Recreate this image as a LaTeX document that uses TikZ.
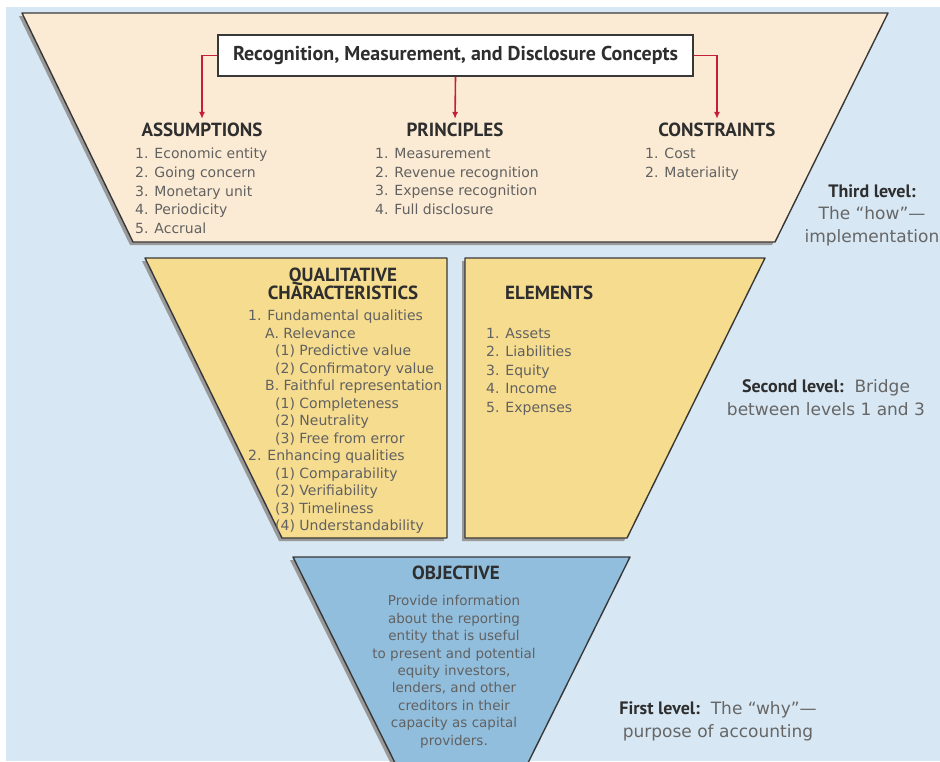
\documentclass[tikz,border=0pt]{standalone}
\usepackage{fontspec}
\setmainfont{DejaVu Sans}
\newfontfamily\headfont{PT Sans}
\usepackage{tikz}
\usetikzlibrary{arrows.meta}
\usetikzlibrary{positioning}
\definecolor{skyback}{HTML}{D7E7F3}
\definecolor{peach}{HTML}{FCEBD4}
\definecolor{gold}{HTML}{F6DC8F}
\definecolor{objblue}{HTML}{92BEDD}
\definecolor{linkred}{HTML}{C41E3A}
\colorlet{rimgray}{black!78}
\colorlet{shadowgray}{black!40}
\colorlet{headgray}{black!82}
\colorlet{itemgray}{black!62}
\colorlet{notegray}{black!60}

\begin{document}
\begin{tikzpicture}[x=1pt,y=-1pt,
    heading/.style={font=\headfont\bfseries\fontsize{19}{19}\selectfont, text=headgray, inner sep=0pt},
    itemlist/.style={font=\fontsize{14}{18.7}\selectfont, text=itemgray, align=left, anchor=north west, inner sep=0pt},
    levelnote/.style={font=\fontsize{17}{22.5}\selectfont, text=notegray, align=center, inner sep=0pt},
    link/.style={draw=linkred, line width=1.6pt, -{Latex[length=7pt,width=6pt]}, shorten >=4pt},
    rim/.style={draw=rimgray, line width=1.4pt, line join=round}]
\useasboundingbox (0,0) rectangle (940,761);
\fill[white] (0,0) rectangle (940,761);
\fill[skyback] (6,7) rectangle (940,761);

\fill[shadowgray, xshift=-3pt, yshift=-3pt] (22,13) -- (888,13) -- (775,242) -- (133,242) -- cycle;
\filldraw[fill=peach, rim] (22,13) -- (888,13) -- (775,242) -- (133,242) -- cycle;
\fill[shadowgray, xshift=-3pt, yshift=-3pt] (145,258) -- (447,258) -- (447,538) -- (282,538) -- cycle;
\filldraw[fill=gold, rim] (145,258) -- (447,258) -- (447,538) -- (282,538) -- cycle;
\fill[shadowgray, xshift=-3pt, yshift=-3pt] (465,258) -- (765,258) -- (627,538) -- (465,538) -- cycle;
\filldraw[fill=gold, rim] (465,258) -- (765,258) -- (627,538) -- (465,538) -- cycle;
\fill[shadowgray, xshift=-3pt, yshift=-3pt] (293,557) -- (630,557) -- (522,775) -- (401,775) -- cycle;
\filldraw[fill=objblue, rim] (293,557) -- (630,557) -- (522,775) -- (401,775) -- cycle;

\node[draw=rimgray, line width=1.5pt, fill=white, minimum width=475pt, minimum height=41pt,
      font=\headfont\bfseries\fontsize{20}{20}\selectfont, text=headgray] (concepts) at (455.5,55.5)
      {Recognition, Measurement, and Disclosure Concepts};

\node[heading] (assump) at (202,130) {ASSUMPTIONS};
\node[heading] (princ) at (455,130) {PRINCIPLES};
\node[heading] (constr) at (717,130) {CONSTRAINTS};
\draw[link] (concepts.west) -| (assump.north);
\draw[link] (concepts.south) -- (princ.north);
\draw[link] (concepts.east) -| (constr.north);

\node[itemlist] (assumplist) at (135,148) {1. Economic entity\\2. Going concern\\3. Monetary unit\\4. Periodicity\\5. Accrual};
\node[itemlist] (princlist) at (375,148) {1. Measurement\\2. Revenue recognition\\3. Expense recognition\\4. Full disclosure};
\node[itemlist] (constrlist) at (645,148) {1. Cost\\2. Materiality};

\node[heading, align=center, font=\headfont\bfseries\fontsize{19}{18}\selectfont] (quality) at (343,284) {QUALITATIVE\\CHARACTERISTICS};
\node[itemlist, font=\fontsize{14}{17.5}\selectfont] (qualitylist) at (248,310)
  {1. Fundamental qualities\\
   \hspace*{17pt}A. Relevance\\
   \hspace*{27pt}(1) Predictive value\\
   \hspace*{27pt}(2) Confirmatory value\\
   \hspace*{17pt}B. Faithful representation\\
   \hspace*{27pt}(1) Completeness\\
   \hspace*{27pt}(2) Neutrality\\
   \hspace*{27pt}(3) Free from error\\
   2. Enhancing qualities\\
   \hspace*{27pt}(1) Comparability\\
   \hspace*{27pt}(2) Verifiability\\
   \hspace*{27pt}(3) Timeliness\\
   \hspace*{27pt}(4) Understandability};

\node[heading, anchor=west] (elements) at (505,293) {ELEMENTS};
\node[itemlist, font=\fontsize{14}{18.5}\selectfont] (elementlist) at (486,328)
  {1. Assets\\2. Liabilities\\3. Equity\\4. Income\\5. Expenses};

\node[heading] (objective) at (456,573) {OBJECTIVE};
\node[itemlist, anchor=north, align=center, font=\fontsize{13.5}{17.4}\selectfont] (objtext) at (454,595.5)
  {Provide information\\about the reporting\\entity that is useful\\to present and potential\\equity investors,\\lenders, and other\\creditors in their\\capacity as capital\\providers.};

\node[levelnote, anchor=north] (third) at (872,184)
  {{\headfont\bfseries\fontsize{18}{22.5}\selectfont\color{headgray}Third level:}\\The ``how''---\\implementation};
\node[levelnote, anchor=north] (second) at (826,379.5)
  {{\headfont\bfseries\fontsize{18}{22.5}\selectfont\color{headgray}Second level:}\ \ Bridge\\between levels 1 and 3};
\node[levelnote, anchor=north] (first) at (718,701.5)
  {{\headfont\bfseries\fontsize{18}{22.5}\selectfont\color{headgray}First level:}\ \ The ``why''---\\purpose of accounting};
\end{tikzpicture}
\end{document}
